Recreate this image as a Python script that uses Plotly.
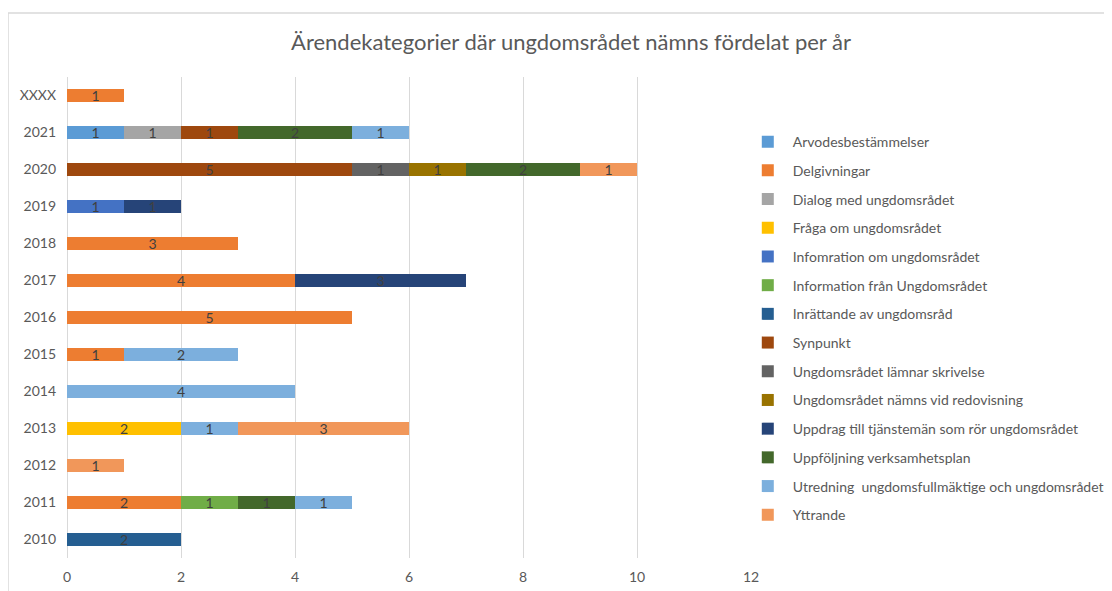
import plotly.graph_objects as go

years = ["2010", "2011", "2012", "2013", "2014", "2015", "2016", "2017",
         "2018", "2019", "2020", "2021", "XXXX"]

N = None
#                      2010 2011 2012 2013 2014 2015 2016 2017 2018 2019 2020 2021 XXXX
arvodes             = [N,   N,   N,   N,   N,   N,   N,   N,   N,   N,   N,   1,   N]
delgivningar        = [N,   2,   N,   N,   N,   1,   5,   4,   3,   N,   N,   N,   1]
dialog              = [N,   N,   N,   N,   N,   N,   N,   N,   N,   N,   N,   1,   N]
fraga               = [N,   N,   N,   2,   N,   N,   N,   N,   N,   N,   N,   N,   N]
infomration_om      = [N,   N,   N,   N,   N,   N,   N,   N,   N,   1,   N,   N,   N]
information_fran    = [N,   1,   N,   N,   N,   N,   N,   N,   N,   N,   N,   N,   N]
inrattande          = [2,   N,   N,   N,   N,   N,   N,   N,   N,   N,   N,   N,   N]
synpunkt            = [N,   N,   N,   N,   N,   N,   N,   N,   N,   N,   5,   1,   N]
lamnar_skrivelse    = [N,   N,   N,   N,   N,   N,   N,   N,   N,   N,   1,   N,   N]
namns_redovisning   = [N,   N,   N,   N,   N,   N,   N,   N,   N,   N,   1,   N,   N]
uppdrag             = [N,   N,   N,   N,   N,   N,   N,   3,   N,   1,   N,   N,   N]
uppfoljning         = [N,   1,   N,   N,   N,   N,   N,   N,   N,   N,   2,   2,   N]
utredning           = [N,   1,   N,   1,   4,   2,   N,   N,   N,   N,   N,   1,   N]
yttrande            = [N,   N,   1,   3,   N,   N,   N,   N,   N,   N,   1,   N,   N]

series_names = [
    "Arvodesbestämmelser",
    "Delgivningar",
    "Dialog med ungdomsrådet",
    "Fråga om ungdomsrådet",
    "Infomration om ungdomsrådet",
    "Information från Ungdomsrådet",
    "Inrättande av ungdomsråd",
    "Synpunkt",
    "Ungdomsrådet lämnar skrivelse",
    "Ungdomsrådet nämns vid redovisning",
    "Uppdrag till tjänstemän som rör ungdomsrådet",
    "Uppföljning verksamhetsplan",
    "Utredning  ungdomsfullmäktige och ungdomsrådet",
    "Yttrande",
]
series_values = [arvodes, delgivningar, dialog, fraga, infomration_om,
                 information_fran, inrattande, synpunkt, lamnar_skrivelse,
                 namns_redovisning, uppdrag, uppfoljning, utredning, yttrande]
series_colors = ["#5B9BD5", "#ED7D31", "#A5A5A5", "#FFC000", "#4472C4",
                 "#70AD47", "#255E91", "#9E480E", "#636363", "#997300",
                 "#264478", "#43682B", "#7CAFDD", "#F1975A"]

x_ticks = [0, 2, 4, 6, 8, 10, 12]

FONT = "Lato"
GREY = "#595959"

fig = go.Figure()
for i, (name, vals, col) in enumerate(zip(series_names, series_values, series_colors)):
    fig.add_trace(go.Bar(
        y=years, x=vals, name=name, orientation="h",
        marker=dict(color=col, line=dict(width=0)),
        texttemplate="%{x}", textposition="inside", textangle=0,
        insidetextanchor="middle", constraintext="none",
        textfont=dict(family=FONT, size=14, color="#404040"),
        legendgroup=f"g{i}",
        hoverinfo="x+y+name",
    ))

# page body has an 8px offset; layout is specified in figure coordinates
L, T, R, B = 59, 69, 369, 41
PW = 1112 - L - R
PH = 591 - T - B

fig.update_layout(
    width=1112, height=591,
    barmode="stack", bargap=0.65,
    plot_bgcolor="white", paper_bgcolor="white",
    margin=dict(l=L, r=R, t=T, b=B, autoexpand=False),
    font=dict(family=FONT, color=GREY, size=14),
    title=dict(text="Ärendekategorier där ungdomsrådet nämns fördelat per år",
               x=563 / 1112, xanchor="center", y=1 - 34 / 591, yanchor="middle",
               yref="container",
               font=dict(family=FONT, size=22, color=GREY)),
    xaxis=dict(range=[0, 12], tickvals=x_ticks, showgrid=True,
               gridcolor="#D9D9D9", gridwidth=1, zeroline=True,
               zerolinecolor="#D9D9D9", zerolinewidth=1, showline=False,
               ticks="", ticklabelstandoff=9, automargin=False,
               tickfont=dict(family=FONT, size=14, color=GREY)),
    yaxis=dict(type="category", categoryorder="array", categoryarray=years,
               showgrid=False, showline=False, ticks="",
               ticklabelstandoff=10, automargin=False,
               tickfont=dict(family=FONT, size=14, color=GREY)),
    legend=dict(x=0.988, xanchor="left", y=0.898, yanchor="top",
                traceorder="grouped", tracegroupgap=7.5, itemwidth=40,
                font=dict(family=FONT, size=14, color=GREY),
                bgcolor="rgba(0,0,0,0)"),
    shapes=[dict(type="rect", xref="paper", yref="paper",
                 x0=(0 - L) / PW, x1=1.8, y0=-0.3, y1=1 + (T - 5) / PH,
                 line=dict(color="#D9D9D9", width=1.5), layer="below")],
)

fig.write_html("out.html")
